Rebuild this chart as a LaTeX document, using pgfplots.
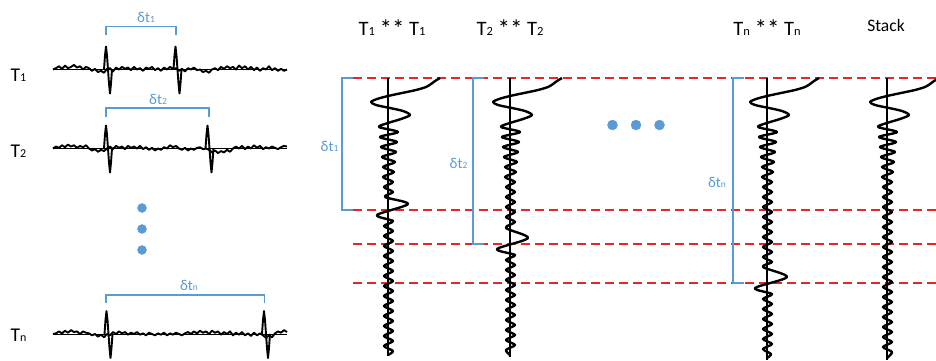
\documentclass[border=0pt]{standalone}
\usepackage{fontspec}
\setmainfont{Carlito}
\usepackage{pgfplots}
\usepackage{pgfplotstable}
\pgfplotsset{compat=1.18}

\definecolor{brk}{RGB}{91,155,213}
\definecolor{refred}{RGB}{228,38,38}
\newcommand{\sub}[2]{{\fontsize{#1}{#1}\selectfont #2}}
\newcommand{\stars}{\raisebox{-2.5pt}{\fontsize{25}{25}\selectfont **}}

% left traces: noise around the baseline (px, up is positive)
\pgfplotstableread{
x   n1   n2   nn
53  0    0    0
56  1    1.5  0.5
59  2.5  0.5  2
62  0.5  2.5  0.5
65  3    1    2.5
68  1    3    1
71  2    1.5  3
74  3.5  2.5  1.5
77  1.5  0.5  2
80  2.5  2    0
83  0    1    2
86  2    2.5  1
89  1    0    0.5
92  -1   -1.5 -1
95  0.5  -0.5 0
98  -2   -2.5 -2
101 -1   -1   -0.5
104 -2.5 -2   -2.5
107 0.5  0    0
110 1    1.5  -1
113 -1.5 -0.5 1.5
116 1.5  2    0
119 0    0.5  2
122 2    1.5  0.5
125 0.5  -0.5 1.5
128 1.5  2    -0.5
131 -0.5 0.5  1
134 2    1.5  0
137 0    0    1.5
140 1    2    -0.5
143 -1   -0.5 0.5
146 1.5  1    -1
149 0.5  -1   1
152 2    0.5  0
155 -0.5 -1.5 -1
158 1    0    0.5
161 -1   -1   -0.5
164 1.5  1    1
167 0    0    -1
170 2    2.5  0.5
173 0.5  1    -0.5
176 1    2    1
179 -1   0    0
182 0.5  -1   -1
185 -1.5 0.5  0.5
188 1    -1.5 1.5
191 0    0    0
194 1.5  -1   2
197 -0.5 0.5  0.5
200 0    1    2.5
203 -2   -0.5 1
206 -1   0    2
209 -2.5 -1   0
212 0    -3   2.5
215 1    -1.5 1
218 -0.5 -3.5 2
221 2    -2   -0.5
224 0.5  -3   1.5
227 2.5  -1   0
230 1    -2.5 2
233 2    0    -1
236 0    1.5  1
239 3    0    -0.5
242 1    2    1.5
245 2.5  -0.5 -1
248 0    1.5  0.5
251 2    0    -1.5
254 -0.5 2.5  1
257 1.5  0.5  -1
260 -1   2    0.5
263 1    -0.5 -1
266 0    1    -3
269 2.5  0    -1
272 -0.5 1.5  -2.5
275 1    0.5  0.5
278 -1   -0.5 2
281 0.5  1    1
284 -1   2    3
287 0    1.5  1.5
}\noise

% spike shape, offsets from the spike position
\pgfplotstableread{
dx a
-2 0
-1 14
0  23
1  14
2  0
3  -14
4  -24
5  -14
6  0
}\spike

% autocorrelation traces: t (px down), amplitude (px right)
\pgfplotstableread{
t a
78 52
81 47
84 43
87 38
90 28
93 14
96 0
99 -11
102 -17
105 -12
108 2
111 15
115 22
119 13
123 0
127 -9
132 10
137 -8
142 9
147 -7
152 8
157 -6
162 7
167 -5
172 6
177 -5
182 5
187 -4
192 5
197 -3
204 20
215 -11
221 5
226 -4
231 5
236 -4
241 5
246 -4
251 5
256 -4
261 5
266 -4
271 5
276 -4
281 5
286 -4
291 5
296 -4
301 5
306 -4
311 5
316 -4
321 5
326 -4
331 5
336 -4
341 5
346 -4
351 5
355 0
}\acA

\pgfplotstableread{
t a
78 52
81 47
84 43
87 38
90 28
93 14
96 0
99 -11
102 -17
105 -12
108 2
111 15
115 22
119 13
123 0
127 -9
132 10
137 -8
142 9
147 -7
152 8
157 -6
162 7
167 -5
172 6
177 -5
182 5
187 -4
192 5
197 -4
202 5
207 -4
212 5
217 -4
222 5
228 -4
238 18
249 -13
255 5
260 -4
265 5
270 -4
275 5
280 -4
285 5
290 -4
295 5
300 -4
305 5
310 -4
315 5
320 -4
325 5
330 -4
335 5
340 -4
345 5
350 -4
355 0
}\acB

\pgfplotstableread{
t a
78 52
81 47
84 43
87 38
90 28
93 14
96 0
99 -11
102 -17
105 -12
108 2
111 15
115 22
119 13
123 0
127 -9
132 10
137 -8
142 9
147 -7
152 8
157 -6
162 7
167 -5
172 6
177 -5
182 5
187 -4
192 5
197 -4
202 5
207 -4
212 5
217 -4
222 5
227 -4
232 5
237 -4
242 5
247 -4
252 5
257 -4
262 5
267 -4
277 20
288 -12
294 5
299 -4
304 5
309 -4
314 5
319 -4
324 5
329 -4
334 5
339 -4
344 5
349 -4
354 4
358 0
}\acN

\pgfplotstableread{
t a
78 52
81 47
84 43
87 38
90 28
93 14
96 0
99 -11
102 -17
105 -12
108 2
111 15
115 22
119 13
123 0
127 -9
132 10
137 -8
142 9
147 -7
152 8
157 -6
162 7
167 -5
172 6
177 -5
182 5
187 -4
192 5
197 -4
202 5
207 -4
212 5
217 -4
222 5
227 -4
232 5
237 -4
242 5
247 -4
252 5
257 -4
262 5
267 -4
272 5
277 -4
282 5
287 -4
292 5
297 -4
302 5
307 -4
312 5
317 -4
322 5
327 -4
332 5
337 -4
342 5
347 -4
352 5
358 0
}\acS

\begin{document}
\begin{tikzpicture}
\begin{axis}[
  scale only axis, width=936pt, height=360pt,
  xmin=0, xmax=936, ymin=0, ymax=360, y dir=reverse,
  hide axis,
  ]
  \path (axis cs:0,0) rectangle (axis cs:936,360);

  % red reference lines
  \addplot[refred, line width=1.4pt, dash pattern=on 9pt off 5pt] coordinates {(353,78) (936,78)};
  \addplot[refred, line width=1.4pt, dash pattern=on 9pt off 5pt] coordinates {(353,210) (936,210)};
  \addplot[refred, line width=1.4pt, dash pattern=on 9pt off 5pt] coordinates {(353,244) (936,244)};
  \addplot[refred, line width=1.4pt, dash pattern=on 9pt off 5pt] coordinates {(353,283) (936,283)};

  % left traces
  \addplot[black, line width=0.8pt] coordinates {(53,69.5) (287,69.5)};
  \addplot[black, line width=0.8pt] coordinates {(53,148.5) (287,148.5)};
  \addplot[black, line width=0.8pt] coordinates {(53,334) (287,334)};
  \addplot[black, line width=1.9pt, line join=round] table[x=x, y expr=69.5-1.3*\thisrow{n1}] {\noise};
  \addplot[black, line width=1.9pt, line join=round] table[x=x, y expr=148.5-1.3*\thisrow{n2}] {\noise};
  \addplot[black, line width=1.9pt, line join=round] table[x=x, y expr=334-1.3*\thisrow{nn}] {\noise};
  \addplot[black, line width=1.9pt, line join=round] table[x expr=\thisrow{dx}+106, y expr=69.5-\thisrow{a}] {\spike};
  \addplot[black, line width=1.9pt, line join=round] table[x expr=\thisrow{dx}+175.5, y expr=69.5-\thisrow{a}] {\spike};
  \addplot[black, line width=1.9pt, line join=round] table[x expr=\thisrow{dx}+106, y expr=148.5-\thisrow{a}] {\spike};
  \addplot[black, line width=1.9pt, line join=round] table[x expr=\thisrow{dx}+207.5, y expr=148.5-\thisrow{a}] {\spike};
  \addplot[black, line width=1.9pt, line join=round] table[x expr=\thisrow{dx}+106.5, y expr=334-\thisrow{a}] {\spike};
  \addplot[black, line width=1.9pt, line join=round] table[x expr=\thisrow{dx}+264, y expr=334-\thisrow{a}] {\spike};

  % left brackets and dots
  \addplot[brk, line width=1.4pt] coordinates {(106,35) (106,26.5) (176,26.5) (176,35)};
  \addplot[brk, line width=1.4pt] coordinates {(106,117) (106,108) (209,108) (209,117)};
  \addplot[brk, line width=1.4pt] coordinates {(106,303) (106,295) (264.5,295) (264.5,303)};
  \addplot[only marks, mark=*, mark size=4.5pt, brk, mark options={fill=brk, draw=brk}] coordinates {(142,208) (142,229) (142,250)};
  \addplot[only marks, mark=*, mark size=5pt, brk, mark options={fill=brk, draw=brk}] coordinates {(612.5,125) (636,125) (659.5,125)};

  % right brackets
  \addplot[brk, line width=1.4pt] coordinates {(353,78) (342,78) (342,210) (353,210)};
  \addplot[brk, line width=1.4pt] coordinates {(484,78) (473,78) (473,244) (484,244)};
  \addplot[brk, line width=1.4pt] coordinates {(744,78) (733,78) (733,283) (744,283)};

  % autocorrelation traces
  \addplot[black, line width=1.2pt] coordinates {(388,78) (388,356)};
  \addplot[black, line width=1.2pt] coordinates {(510,78) (510,357)};
  \addplot[black, line width=1.2pt] coordinates {(767,78) (767,360)};
  \addplot[black, line width=1.2pt] coordinates {(887,78) (887,360)};
  \addplot[black, line width=2.4pt, smooth, line join=round] table[x expr=388+\thisrow{a}, y=t] {\acA};
  \addplot[black, line width=2.4pt, smooth, line join=round] table[x expr=510+\thisrow{a}, y=t] {\acB};
  \addplot[black, line width=2.4pt, smooth, line join=round] table[x expr=767+\thisrow{a}, y=t] {\acN};
  \addplot[black, line width=2.4pt, smooth, line join=round] table[x expr=887+\thisrow{a}, y=t] {\acS};

  % labels
  \node[anchor=base west, font=\fontsize{19.5}{20}\selectfont] at (axis cs:7,81.5) {T\sub{12}{1}};
  \node[anchor=base west, font=\fontsize{19.5}{20}\selectfont] at (axis cs:7,157) {T\sub{12}{2}};
  \node[anchor=base west, font=\fontsize{19.5}{20}\selectfont] at (axis cs:7,341) {T\sub{12}{n}};
  \node[anchor=base, text=brk, font=\fontsize{15}{15}\selectfont] at (axis cs:146,22.5) {δt\sub{9.5}{1}};
  \node[anchor=base, text=brk, font=\fontsize{15}{15}\selectfont] at (axis cs:158,104) {δt\sub{9.5}{2}};
  \node[anchor=base, text=brk, font=\fontsize{15}{15}\selectfont] at (axis cs:189,290) {δt\sub{9.5}{n}};
  \node[anchor=base, text=brk, font=\fontsize{15}{15}\selectfont] at (axis cs:329.5,151) {δt\sub{9.5}{1}};
  \node[anchor=base, text=brk, font=\fontsize{15}{15}\selectfont] at (axis cs:458.5,168) {δt\sub{9.5}{2}};
  \node[anchor=base, text=brk, font=\fontsize{15}{15}\selectfont] at (axis cs:717,187) {δt\sub{9.5}{n}};
  \node[anchor=base, font=\fontsize{20.5}{21}\selectfont] at (axis cs:392,35) {T\sub{12.5}{1} \stars{} T\sub{12.5}{1}};
  \node[anchor=base, font=\fontsize{20.5}{21}\selectfont] at (axis cs:510,35) {T\sub{12.5}{2} \stars{} T\sub{12.5}{2}};
  \node[anchor=base, font=\fontsize{20.5}{21}\selectfont] at (axis cs:767,35) {T\sub{12.5}{n} \stars{} T\sub{12.5}{n}};
  \node[anchor=base, font=\fontsize{17.5}{18}\selectfont] at (axis cs:886,31.5) {Stack};
\end{axis}
\end{tikzpicture}
\end{document}
